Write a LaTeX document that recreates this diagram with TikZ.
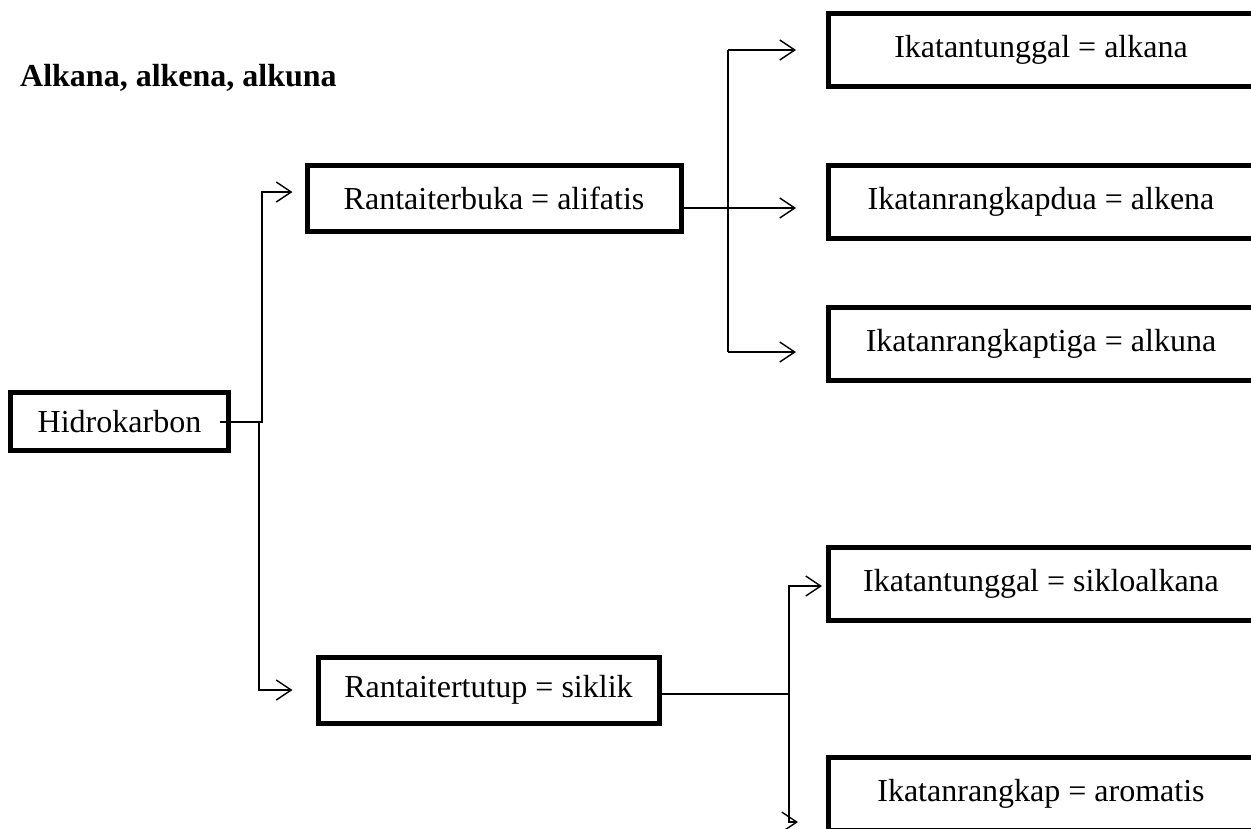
\documentclass[tikz,border=0pt]{standalone}
\usepackage{fontspec}
\setmainfont{Liberation Serif}
\usetikzlibrary{arrows.meta,calc}
\begin{document}
\begin{tikzpicture}[x=1pt,y=-1pt,
  box/.style={draw,line width=5pt,inner sep=0pt,minimum height=66pt,
    font=\fontsize{32}{36}\selectfont},
  wide/.style={box,minimum width=425pt,minimum height=73pt},
  conn/.style={line width=1.4pt},
  arr/.style={conn,-{Straight Barb[length=15pt,width=20pt,line width=1.4pt]}}]
  \useasboundingbox (0,0) rectangle (1251,828);
  \clip (0,0) rectangle (1251,828);

  % heading
  \node[anchor=base west,inner sep=0pt,font=\fontsize{32}{36}\selectfont\bfseries]
    (title) at (20,86) {Alkana, alkena, alkuna};

  % main boxes
  \node[box,minimum width=218pt,minimum height=58pt] (hidro) at (119.5,421.5) {Hidrokarbon};
  \node[box,minimum width=374pt] (terbuka) at (494,198) {Rantaiterbuka = alifatis};
  \node[box,minimum width=341pt] (tertutup) at (488.5,690) {Rantaitertutup = siklik};

  % leaf boxes (run past the right edge)
  \node[wide] (alkana)  at (1041,50)    {Ikatantunggal = alkana};
  \node[wide] (alkena)  at (1041,201.5) {Ikatanrangkapdua = alkena};
  \node[wide] (alkuna)  at (1041,343.5) {Ikatanrangkaptiga = alkuna};
  \node[wide] (siklo)   at (1041,584)   {Ikatantunggal = sikloalkana};
  \node[wide] (aromat)  at (1041,794)   {Ikatanrangkap = aromatis};

  % elbow points
  \coordinate (hstub) at (220,422);
  \coordinate (hup)   at (262,422);
  \coordinate (hdown) at (259,422);
  \coordinate (tbus)  at (728,208);
  \coordinate (cbus)  at (789,694);

  % Hidrokarbon -> two chain types
  \draw[arr] (hstub) -- (hup) |- ([xshift=-12pt,yshift=6pt]terbuka.west);
  \draw[arr] (hdown) |- ([xshift=-23pt]tertutup.west);

  % open chain -> alkana / alkena / alkuna
  \draw[arr] (terbuka.east |- tbus) -- ([xshift=-30pt]alkena.west |- tbus);
  \draw[arr] (tbus |- alkana.west) -- ([xshift=-30pt]alkana.west);
  \draw[conn] (tbus |- alkana.west) -- (tbus |- 0,352);
  \draw[arr] (tbus |- 0,352) -- ([xshift=-30pt]alkuna.west |- 0,352);

  % closed chain -> sikloalkana / aromatis
  \draw[conn] (tertutup.east |- cbus) -- (cbus);
  \draw[arr] (cbus) |- ([xshift=-4pt,yshift=-2pt]siklo.west);
  \draw[arr] (cbus) |- ([xshift=-28pt]aromat.west |- 0,822);
\end{tikzpicture}
\end{document}
